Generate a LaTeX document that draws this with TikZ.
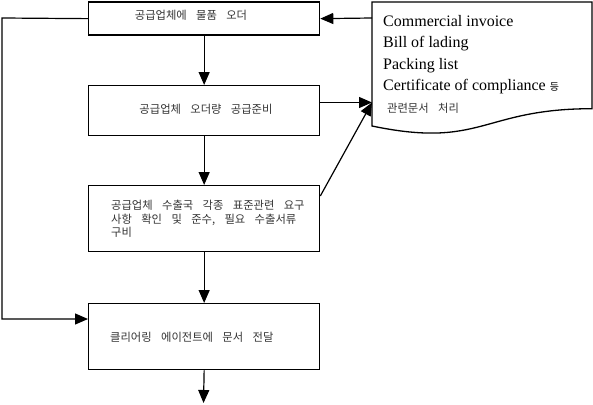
\documentclass[tikz,border=0pt]{standalone}
\usepackage{fontspec}
\setmainfont{Liberation Serif}
\newfontfamily\kr[WordSpace=3.7]{Noto Sans CJK KR}
\usetikzlibrary{arrows.meta}
\begin{document}
\begin{tikzpicture}[x=1pt,y=-1pt,
  box/.style={draw, line width=1.3pt, minimum width=231pt, inner sep=0pt, anchor=north west},
  conn/.style={line width=1.2pt, -{Triangle[length=13pt,width=11pt]}},
  kt/.style={font=\kr\fontsize{11.3}{13.5}\selectfont, text=black!80, inner sep=0pt},
  et/.style={font=\fontsize{16}{21}\selectfont, anchor=base west, inner sep=0pt}]
\useasboundingbox (0,0) rectangle (593,404);
% boxes
\node[box, minimum height=33pt] (b1) at (88,1.5) {};
\node[box, minimum height=50pt] (b2) at (88,85) {};
\node[box, minimum height=66pt] (b3) at (88,185) {};
\node[box, minimum height=66pt] (b4) at (88,303) {};
% box texts
\node[kt] (t1) at (191,15.5) {공급업체에 물품 오더};
\node[kt] (t2) at (206,109) {공급업체 오더량 공급준비};
\node[kt, anchor=west, align=left] (t3) at (111,219) {공급업체 수출국 각종 표준관련 요구\\사항 확인 및 준수, 필요 수출서류\\구비};
\node[kt, anchor=west] (t4) at (110,337) {클리어링 에이전트에 문서 전달};
% document shape
\draw[line width=1.3pt] (372,2) -- (592,2) -- (592,108.7) .. controls (482,108.7) and (482,149) .. (372,126) -- cycle;
\node[et] (d1) at (383,27) {Commercial invoice};
\node[et] (d2) at (383,48) {Bill of lading};
\node[et] (d3) at (383,69) {Packing list};
\node[et] (d4) at (383,90) {Certificate of compliance {\kr\fontsize{10}{12}\selectfont 등}};
\node[kt, anchor=west] (d5) at (387,108) {관련문서 처리};
% coordinates
\coordinate (dA) at (372,18);
\coordinate (dB) at (372,102.5);
\coordinate (lp) at (2,18);
\coordinate (end) at (203.5,403);
% connectors
\draw[conn] (b1.south) -- (b2.north);
\draw[conn] (b2.south) -- (b3.north);
\draw[conn] (b3.south) -- (b4.north);
\draw[conn] (b4.south) -- (end);
\draw[conn] (b1.west) -- (lp) |- ([yshift=-16pt]b4.north west);
\draw[conn] (dA) -- (b1.east);
\draw[conn] ([yshift=-17.5pt]b2.north east) -- (dB);
\draw[conn] ([yshift=-11pt]b3.north east) -- (dB);
\end{tikzpicture}
\end{document}
